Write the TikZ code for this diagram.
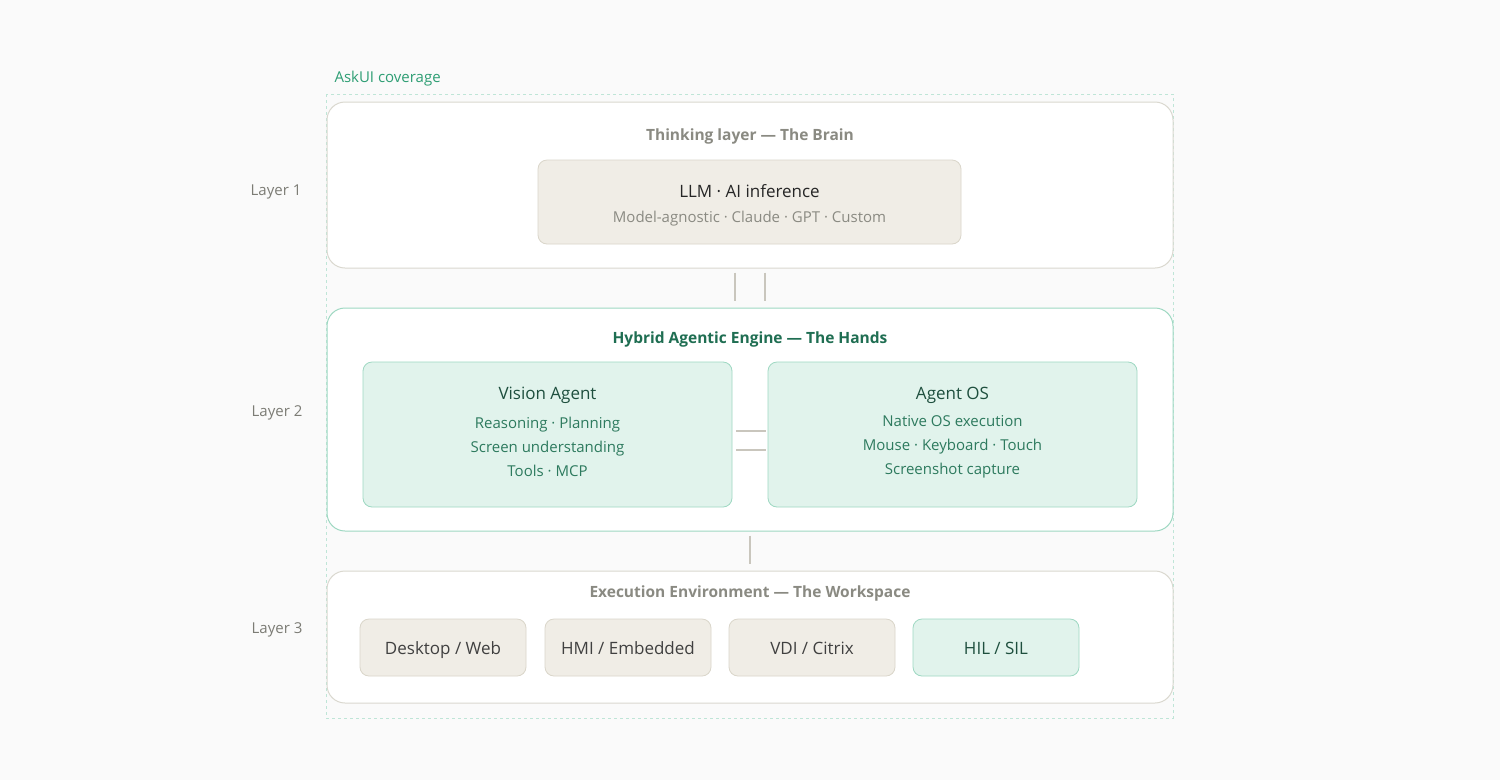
\documentclass[tikz,border=0pt]{standalone}
\usepackage{fontspec}
\setmainfont{Open Sans}
\usetikzlibrary{calc}
\definecolor{PageClr}{HTML}{FAFAFA}
\definecolor{GrayLine}{HTML}{DAD8CF}
\definecolor{TealLine}{HTML}{9ED8C2}
\definecolor{TealFill}{HTML}{E1F3EC}
\definecolor{SandFill}{HTML}{F0EDE6}
\definecolor{SandLine}{HTML}{DAD6CA}
\definecolor{TitleGray}{HTML}{8A8A82}
\definecolor{TitleGreen}{HTML}{1F6E52}
\definecolor{CoverClr}{HTML}{2E9E74}
\definecolor{DashClr}{HTML}{BFE5D7}
\definecolor{DeepGreen}{HTML}{1E4F3E}
\definecolor{SoftGreen}{HTML}{2D7A5E}
\definecolor{LinkClr}{HTML}{C9C6BD}
\newcommand{\fs}[1]{\fontsize{#1}{#1}\selectfont}

\begin{document}
\begin{tikzpicture}[x=1pt,y=-1pt,
  layerbox/.style={draw=GrayLine,fill=white,rounded corners=18pt,line width=1pt,inner sep=0pt},
  enginebox/.style={layerbox,draw=TealLine},
  sandbox/.style={draw=SandLine,fill=SandFill,rounded corners=9pt,line width=0.8pt,inner sep=0pt},
  tealbox/.style={sandbox,draw=TealLine,fill=TealFill},
  envbox/.style={minimum width=166pt,minimum height=57pt,font=\fs{17},text height=16pt,text depth=1.5pt},
  tag/.style={text=TitleGray!90!black,font=\fs{15}},
  head/.style={font=\fs{15.5}\bfseries,text=TitleGray},
  link/.style={draw=LinkClr,line width=1.4pt}]

\fill[PageClr] (0,0) rectangle (1500,780);
\useasboundingbox (0,0) rectangle (1500,780);

% coverage frame
\draw[DashClr,dashed,line width=0.8pt] (326,94) rectangle (1173,718);
\node[anchor=west,text=CoverClr,font=\fs{15}] (cover) at (331,79) {AskUI coverage};

% layer names
\node[tag] (tag1) at (276,192) {Layer 1};
\node[tag] (tag2) at (277,413) {Layer 2};
\node[tag] (tag3) at (277,630) {Layer 3};

% layer 1
\node[layerbox,minimum width=846pt,minimum height=166pt] (brain) at (750,185) {};
\node[head] (brainT) at (750,136) {Thinking layer — The Brain};
\node[sandbox,minimum width=423pt,minimum height=84pt] (llm) at (749.5,202) {};
\node[font=\fs{17},text=black!85] (llmT) at (749.5,191) {LLM · AI inference};
\node[font=\fs{15},text=TitleGray] (llmS) at (749.5,219) {Model-agnostic · Claude · GPT · Custom};

% layer 2
\node[enginebox,minimum width=846pt,minimum height=223pt] (hands) at (750,419.5) {};
\node[head,text=TitleGreen] (handsT) at (750,339) {Hybrid Agentic Engine — The Hands};

\node[tealbox,minimum width=369pt,minimum height=145pt] (vision) at (547.5,434.5) {};
\node[font=\fs{17},text=DeepGreen] (visionT) at (547.5,395) {Vision Agent};
\node[font=\fs{15},text=SoftGreen,align=center] (visionS) at (547.5,447)
  {Reasoning · Planning\\[9pt]Screen understanding\\[9pt]Tools · MCP};

\node[tealbox,minimum width=369pt,minimum height=145pt] (agentos) at (952.5,434.5) {};
\node[font=\fs{17},text=DeepGreen] (agentosT) at (952.5,395) {Agent OS};
\node[font=\fs{15},text=SoftGreen,align=center] (agentosS) at (952.5,447)
  {Native OS execution\\[9pt]Mouse · Keyboard · Touch\\[9pt]Screenshot capture};

% layer 3
\node[layerbox,minimum width=846pt,minimum height=132pt] (work) at (750,637) {};
\node[head] (workT) at (750,593) {Execution Environment — The Workspace};
\foreach \name/\cx/\txt in {desk/443/{Desktop / Web},hmi/628/{HMI / Embedded},vdi/812/{VDI / Citrix}}
  \node[sandbox,envbox,text=black!75] (\name) at (\cx,647.5) {\txt};
\node[tealbox,envbox,text=DeepGreen] (hil) at (996,647.5) {HIL / SIL};

% links
\draw[link,shorten <=4pt,shorten >=7pt] ([xshift=-15pt]brain.south) -- ([xshift=-15pt]hands.north);
\draw[link,shorten <=4pt,shorten >=7pt] ([xshift=15pt]brain.south) -- ([xshift=15pt]hands.north);
\draw[link,shorten <=4pt,shorten >=2pt] ([yshift=3.5pt]vision.east) -- ([yshift=3.5pt]agentos.west);
\draw[link,shorten <=4pt,shorten >=2pt] ([yshift=-15.5pt]vision.east) -- ([yshift=-15.5pt]agentos.west);
\draw[link,shorten <=4pt,shorten >=7pt] (hands.south) -- (work.north);

\end{tikzpicture}
\end{document}
